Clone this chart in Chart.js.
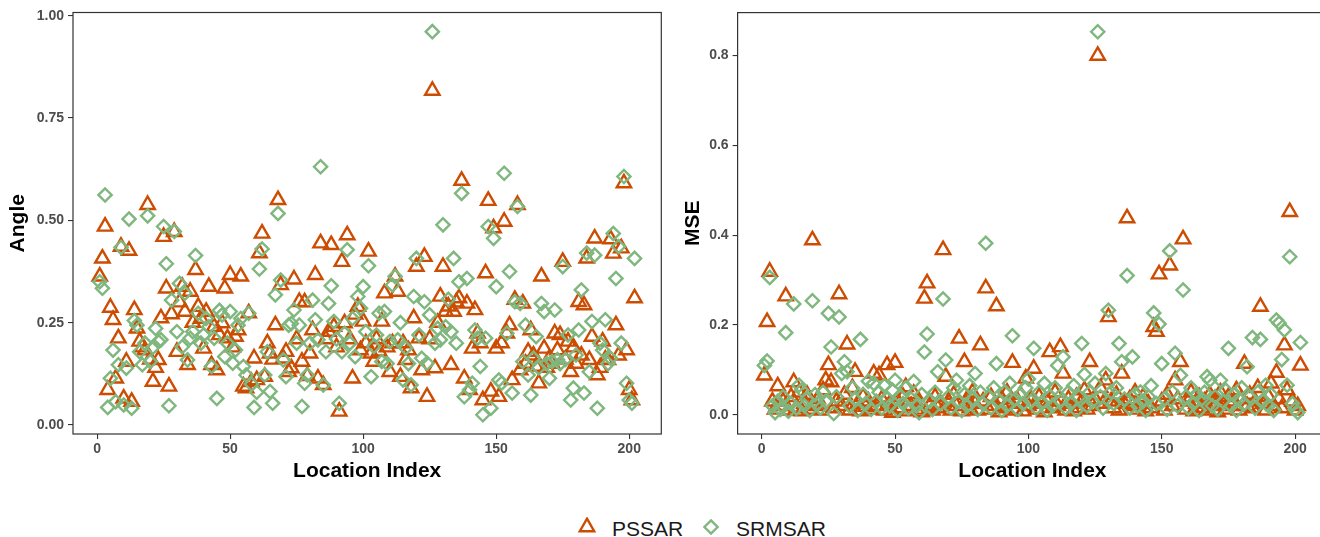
<!DOCTYPE html>
<html>
<head>
<meta charset="utf-8">
<title>Angle and MSE by location</title>
<script src="https://cdn.jsdelivr.net/npm/chart.js@4.4.1/dist/chart.umd.min.js"></script>
<style>
  html, body { margin: 0; padding: 0; background: #fff; overflow: hidden; }
  body { width: 1320px; height: 537px; position: relative; font-family: "Liberation Sans", Arial, sans-serif; }
  canvas { position: absolute; top: 0; }
  #angleChart { left: 0; }
  #mseChart { left: 672px; }
  .key { position: absolute; }
  .keyText { position: absolute; font-size: 21px; line-height: 25px; color: #1a1a1a; white-space: nowrap; }
</style>
</head>
<body>
<canvas id="angleChart" width="672" height="500"></canvas>
<canvas id="mseChart" width="670" height="500"></canvas>

<svg class="key" style="left:576.7px;top:517px" width="20" height="20">
  <polygon points="10,1.7 17.2,14.2 2.8,14.2" fill="none" stroke="#CC4C02" stroke-width="2.4"/>
</svg>
<span class="keyText" style="left:612px;top:516px">PSSAR</span>
<svg class="key" style="left:701px;top:517px" width="20" height="20">
  <polygon points="10,3.4 16.6,10 10,16.6 3.4,10" fill="none" stroke="#7fb77e" stroke-width="2.4"/>
</svg>
<span class="keyText" style="left:736px;top:516px">SRMSAR</span>

<script>
// location index 1..202
const locationIndex = Array.from({ length: 202 }, (_, k) => k + 1);

const xTicks = [0, 50, 100, 150, 200];
const xTickLabels = ["0", "50", "100", "150", "200"];

const angleTicks = [0, 0.25, 0.5, 0.75, 1];
const angleTickLabels = ["0.00", "0.25", "0.50", "0.75", "1.00"];

const mseTicks = [0, 0.2, 0.4, 0.6, 0.8];
const mseTickLabels = ["0.0", "0.2", "0.4", "0.6", "0.8"];

const pssarAngle = [
  0.363, 0.407, 0.485, 0.086, 0.287, 0.257, 0.114, 0.212, 0.436, 0.065,
  0.155, 0.426, 0.057, 0.281, 0.236, 0.204, 0.19, 0.183, 0.538, 0.16,
  0.106, 0.14, 0.159, 0.261, 0.460, 0.334, 0.094, 0.271, 0.472, 0.179,
  0.30, 0.338, 0.277, 0.147, 0.326, 0.25, 0.379, 0.289, 0.26, 0.187,
  0.277, 0.338, 0.147, 0.24, 0.134, 0.22, 0.249, 0.334, 0.212, 0.367,
  0.19, 0.216, 0.232, 0.363, 0.094, 0.090, 0.273, 0.105, 0.163, 0.11,
  0.42, 0.468, 0.118, 0.2, 0.175, 0.16, 0.244, 0.55, 0.342, 0.163,
  0.179, 0.13, 0.139, 0.356, 0.21, 0.301, 0.155, 0.30, 0.12, 0.175,
  0.232, 0.367, 0.114, 0.444, 0.098, 0.21, 0.228, 0.44, 0.24, 0.19,
  0.033, 0.399, 0.249, 0.464, 0.21, 0.114, 0.27, 0.289, 0.183, 0.253,
  0.2, 0.424, 0.175, 0.155, 0.21, 0.18, 0.253, 0.322, 0.19, 0.13,
  0.2, 0.363, 0.326, 0.118, 0.2, 0.159, 0.183, 0.09, 0.261, 0.387,
  0.212, 0.134, 0.411, 0.069, 0.21, 0.817, 0.139, 0.25, 0.314, 0.387,
  0.277, 0.29, 0.147, 0.277, 0.3, 0.31, 0.597, 0.114, 0.297, 0.086,
  0.187, 0.281, 0.224, 0.2, 0.061, 0.371, 0.548, 0.082, 0.481, 0.187,
  0.069, 0.2, 0.497, 0.224, 0.244, 0.11, 0.306, 0.538, 0.134, 0.297,
  0.15, 0.179, 0.232, 0.17, 0.143, 0.102, 0.363, 0.187, 0.14, 0.163,
  0.15, 0.224, 0.183, 0.22, 0.399, 0.16, 0.204, 0.13, 0.19, 0.15,
  0.301, 0.17, 0.293, 0.407, 0.159, 0.216, 0.456, 0.122, 0.14, 0.204,
  0.16, 0.159, 0.454, 0.419, 0.244, 0.17, 0.432, 0.591, 0.183, 0.086,
  0.061, 0.31
];

const srmsarAngle = [
  0.35, 0.334, 0.562, 0.043, 0.114, 0.183, 0.057, 0.147, 0.434, 0.049,
  0.139, 0.503, 0.041, 0.255, 0.244, 0.179, 0.147, 0.2, 0.511, 0.155,
  0.19, 0.236, 0.204, 0.208, 0.485, 0.394, 0.047, 0.305, 0.473, 0.228,
  0.346, 0.191, 0.322, 0.159, 0.212, 0.228, 0.414, 0.273, 0.2, 0.22,
  0.26, 0.24, 0.143, 0.212, 0.065, 0.28, 0.269, 0.167, 0.2, 0.277,
  0.151, 0.183, 0.244, 0.26, 0.143, 0.122, 0.273, 0.1, 0.043, 0.08,
  0.381, 0.43, 0.122, 0.179, 0.082, 0.053, 0.318, 0.517, 0.354, 0.159,
  0.118, 0.244, 0.248, 0.281, 0.2, 0.244, 0.045, 0.102, 0.122, 0.2,
  0.305, 0.257, 0.208, 0.631, 0.098, 0.179, 0.297, 0.34, 0.253, 0.21,
  0.053, 0.179, 0.224, 0.428, 0.2, 0.26, 0.167, 0.314, 0.285, 0.338,
  0.228, 0.389, 0.118, 0.192, 0.22, 0.273, 0.155, 0.277, 0.15, 0.204,
  0.342, 0.363, 0.208, 0.25, 0.11, 0.188, 0.15, 0.098, 0.314, 0.407,
  0.22, 0.163, 0.301, 0.151, 0.269, 0.961, 0.2, 0.236, 0.208, 0.489,
  0.24, 0.307, 0.228, 0.407, 0.2, 0.35, 0.566, 0.069, 0.358, 0.086,
  0.102, 0.232, 0.212, 0.143, 0.025, 0.212, 0.485, 0.041, 0.456, 0.338,
  0.11, 0.102, 0.615, 0.224, 0.375, 0.078, 0.301, 0.534, 0.297, 0.155,
  0.244, 0.122, 0.073, 0.163, 0.216, 0.14, 0.297, 0.277, 0.15, 0.114,
  0.155, 0.281, 0.16, 0.15, 0.387, 0.16, 0.22, 0.061, 0.09, 0.171,
  0.232, 0.33, 0.078, 0.42, 0.13, 0.253, 0.415, 0.041, 0.2, 0.183,
  0.257, 0.15, 0.163, 0.468, 0.358, 0.436, 0.2, 0.607, 0.102, 0.061,
  0.053, 0.407
];

const pssarMse = [
  0.088, 0.207, 0.319, 0.03, 0.012, 0.064, 0.02, 0.03, 0.264, 0.01,
  0.04, 0.073, 0.015, 0.05, 0.008, 0.025, 0.045, 0.012, 0.389, 0.02,
  0.035, 0.01, 0.055, 0.077, 0.111, 0.073, 0.015, 0.03, 0.269, 0.02,
  0.045, 0.157, 0.01, 0.06, 0.096, 0.025, 0.008, 0.04, 0.018, 0.03,
  0.012, 0.092, 0.02, 0.088, 0.035, 0.01, 0.111, 0.025, 0.005, 0.116,
  0.03, 0.015, 0.04, 0.062, 0.008, 0.02, 0.047, 0.012, 0.03, 0.006,
  0.259, 0.293, 0.02, 0.01, 0.04, 0.015, 0.025, 0.367, 0.085, 0.03,
  0.01, 0.045, 0.02, 0.17, 0.008, 0.118, 0.035, 0.015, 0.05, 0.025,
  0.01, 0.155, 0.03, 0.282, 0.012, 0.04, 0.02, 0.242, 0.006, 0.035,
  0.015, 0.05, 0.025, 0.116, 0.01, 0.03, 0.045, 0.008, 0.081, 0.02,
  0.035, 0.103, 0.012, 0.04, 0.025, 0.006, 0.03, 0.14, 0.015, 0.05,
  0.02, 0.151, 0.092, 0.01, 0.035, 0.025, 0.008, 0.04, 0.015, 0.03,
  0.055, 0.012, 0.118, 0.02, 0.035, 0.80, 0.06, 0.025, 0.077, 0.218,
  0.03, 0.015, 0.045, 0.01, 0.092, 0.025, 0.438, 0.035, 0.02, 0.05,
  0.012, 0.03, 0.04, 0.008, 0.025, 0.015, 0.196, 0.185, 0.313, 0.03,
  0.01, 0.045, 0.333, 0.02, 0.077, 0.035, 0.118, 0.391, 0.012, 0.03,
  0.05, 0.008, 0.025, 0.04, 0.015, 0.03, 0.01, 0.045, 0.02, 0.035,
  0.006, 0.05, 0.025, 0.012, 0.04, 0.02, 0.03, 0.055, 0.01, 0.035,
  0.114, 0.02, 0.045, 0.015, 0.03, 0.06, 0.241, 0.025, 0.01, 0.04,
  0.07, 0.02, 0.094, 0.035, 0.015, 0.155, 0.055, 0.452, 0.03, 0.01,
  0.02, 0.11
];

const srmsarMse = [
  0.11, 0.12, 0.306, 0.02, 0.005, 0.03, 0.012, 0.04, 0.183, 0.008,
  0.025, 0.247, 0.015, 0.066, 0.055, 0.02, 0.035, 0.01, 0.254, 0.045,
  0.025, 0.015, 0.05, 0.03, 0.226, 0.151, 0.003, 0.04, 0.218, 0.092,
  0.118, 0.096, 0.02, 0.06, 0.035, 0.01, 0.168, 0.045, 0.025, 0.075,
  0.012, 0.07, 0.03, 0.05, 0.015, 0.065, 0.035, 0.02, 0.055, 0.077,
  0.01, 0.04, 0.025, 0.06, 0.015, 0.035, 0.074, 0.02, 0.005, 0.045,
  0.14, 0.18, 0.03, 0.012, 0.05, 0.096, 0.025, 0.258, 0.122, 0.04,
  0.015, 0.06, 0.077, 0.03, 0.01, 0.045, 0.02, 0.065, 0.035, 0.092,
  0.012, 0.05, 0.025, 0.382, 0.04, 0.015, 0.06, 0.114, 0.03, 0.01,
  0.05, 0.02, 0.07, 0.176, 0.035, 0.012, 0.045, 0.025, 0.06, 0.08,
  0.03, 0.148, 0.015, 0.05, 0.025, 0.07, 0.01, 0.04, 0.02, 0.06,
  0.11, 0.03, 0.129, 0.015, 0.05, 0.025, 0.065, 0.01, 0.04, 0.159,
  0.09, 0.02, 0.05, 0.03, 0.07, 0.853, 0.04, 0.015, 0.092, 0.233,
  0.051, 0.025, 0.06, 0.159, 0.118, 0.035, 0.31, 0.015, 0.129, 0.045,
  0.02, 0.051, 0.03, 0.01, 0.04, 0.065, 0.227, 0.025, 0.202, 0.114,
  0.035, 0.012, 0.365, 0.051, 0.137, 0.02, 0.088, 0.278, 0.04, 0.015,
  0.06, 0.025, 0.045, 0.01, 0.035, 0.05, 0.085, 0.077, 0.02, 0.04,
  0.012, 0.077, 0.03, 0.055, 0.148, 0.02, 0.045, 0.01, 0.035, 0.06,
  0.025, 0.107, 0.04, 0.172, 0.015, 0.05, 0.168, 0.03, 0.066, 0.02,
  0.045, 0.01, 0.211, 0.204, 0.123, 0.189, 0.066, 0.352, 0.025, 0.012,
  0.005, 0.161
];

const PSSAR_COLOR = "#CC4C02";
const SRMSAR_COLOR = "#7fb77e";

Chart.defaults.font.family = "'Liberation Sans', Arial, sans-serif";

// box around the plotting region, drawn over the points
const panelBorder = {
  id: "panelBorder",
  afterDatasetsDraw(chart) {
    const { ctx, chartArea: a } = chart;
    ctx.save();
    ctx.strokeStyle = "#333333";
    ctx.lineWidth = 1.2;
    ctx.strokeRect(a.left, a.top, a.right - a.left, a.bottom - a.top);
    ctx.restore();
  }
};

function toPoints(values) {
  return locationIndex.map((x, k) => ({ x: x, y: values[k] }));
}

function makeChart(id, opts) {
  const tickFont = { size: 14, weight: "bold" };
  const titleFont = { size: 21, weight: "bold" };
  const tickGrid = { drawOnChartArea: false, drawTicks: true, tickLength: 5, color: "#333333", lineWidth: 1.1 };

  return new Chart(document.getElementById(id), {
    type: "scatter",
    data: {
      datasets: [
        {
          label: "SRMSAR",
          data: toPoints(opts.srmsar),
          pointStyle: "rectRot",
          pointRadius: 6.6,
          borderWidth: 2.4,
          borderColor: SRMSAR_COLOR,
          backgroundColor: "rgba(0,0,0,0)",
          order: 0
        },
        {
          label: "PSSAR",
          data: toPoints(opts.pssar),
          pointStyle: "triangle",
          pointRadius: 8.3,
          borderWidth: 2.4,
          borderColor: PSSAR_COLOR,
          backgroundColor: "rgba(0,0,0,0)",
          order: 1
        }
      ]
    },
    options: {
      responsive: false,
      devicePixelRatio: 1,
      animation: false,
      events: [],
      layout: { padding: { top: opts.padTop, right: opts.padRight, left: 0, bottom: 0 } },
      plugins: { legend: { display: false }, tooltip: { enabled: false } },
      scales: {
        x: {
          type: "linear",
          min: -9.05,
          max: 212.05,
          afterFit: s => { s.height = 66; },
          afterBuildTicks: s => { s.ticks = xTicks.map(v => ({ value: v })); },
          grid: tickGrid,
          border: { display: false },
          ticks: {
            color: "#4d4d4d",
            font: tickFont,
            padding: 2,
            maxRotation: 0,
            autoSkip: false,
            callback: (v, i) => xTickLabels[i]
          },
          title: { display: true, text: "Location Index", color: "#000", font: titleFont, padding: { top: 0, bottom: 16 } }
        },
        y: {
          type: "linear",
          min: opts.yMin,
          max: opts.yMax,
          afterFit: s => { s.width = opts.yAxisWidth; },
          afterBuildTicks: s => { s.ticks = opts.yTicks.map(v => ({ value: v })); },
          grid: tickGrid,
          border: { display: false },
          ticks: {
            color: "#4d4d4d",
            font: tickFont,
            padding: 4,
            autoSkip: false,
            callback: (v, i) => opts.yTickLabels[i]
          },
          title: { display: true, text: opts.yTitle, color: "#000", font: titleFont, padding: { top: opts.titlePad, bottom: 0 } }
        }
      }
    },
    plugins: [panelBorder]
  });
}

makeChart("angleChart", {
  pssar: pssarAngle,
  srmsar: srmsarAngle,
  yTitle: "Angle",
  yTicks: angleTicks,
  yTickLabels: angleTickLabels,
  yMin: -0.022,
  yMax: 1.0078,
  yAxisWidth: 73,
  titlePad: 6,
  padTop: 12.5,
  padRight: 10
});

makeChart("mseChart", {
  pssar: pssarMse,
  srmsar: srmsarMse,
  yTitle: "MSE",
  yTicks: mseTicks,
  yTickLabels: mseTickLabels,
  yMin: -0.0427,
  yMax: 0.8957,
  yAxisWidth: 65.6,
  titlePad: 8.5,
  padTop: 12.6,
  padRight: 14.8
});
</script>
</body>
</html>
